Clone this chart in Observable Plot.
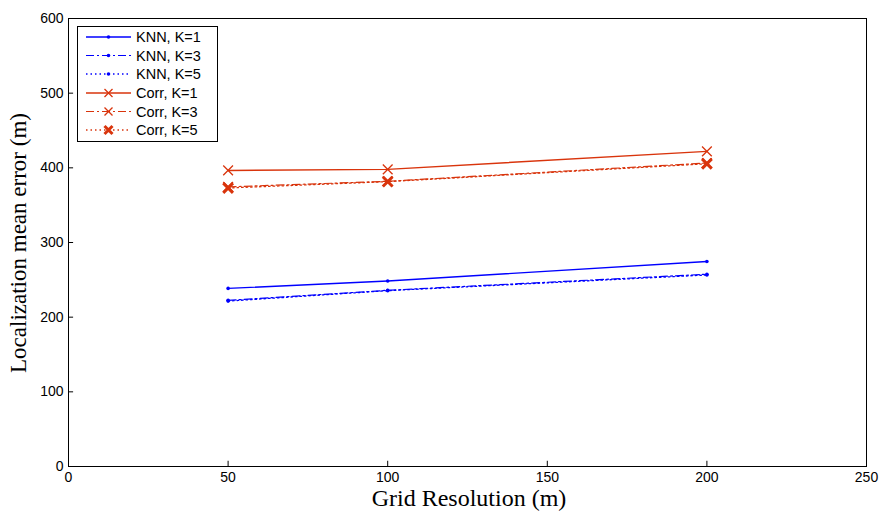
<!DOCTYPE html>
<html><head><meta charset="utf-8">
<script src="https://cdn.jsdelivr.net/npm/d3@7"></script>
<script src="https://cdn.jsdelivr.net/npm/@observablehq/plot@0.6"></script>
<style>body{margin:0;background:#fff}</style>
</head><body><div id="chart"></div>
<script>
const gridRes = [50, 100, 200];
const knnK1 = [238.5, 248.5, 274.5];
const knnK3 = [222.5, 236, 257.5];
const knnK5 = [221.5, 235.5, 256.5];
const corrK1 = [396.5, 398, 422];
const corrK3 = [374.5, 382, 406.5];
const corrK5 = [373, 381.5, 405.5];
const seriesNames = ["KNN, K=1","KNN, K=3","KNN, K=5","Corr, K=1","Corr, K=3","Corr, K=5"];
const xTicks = [0,50,100,150,200,250];
const yTicks = [0,100,200,300,400,500,600];

const BLUE = "#0000ff", RED = "#d9340c";
const styles = [
  {c: BLUE, dash: null, w: 1.4, m: "dot"},
  {c: BLUE, dash: "8,3,2,3", w: 1.2, m: "dot"},
  {c: BLUE, dash: "1.5,3", w: 1.3, m: "dot"},
  {c: RED, dash: null, w: 1.4, m: "x"},
  {c: RED, dash: "8,3,2,3", w: 1.2, m: "x"},
  {c: RED, dash: "1.5,3", w: 1.3, m: "bx"}
];
const allSeries = [knnK1, knnK3, knnK5, corrK1, corrK3, corrK5];
const rows = [];
allSeries.forEach((vals, i) => vals.forEach((v, j) => rows.push({s: i, x: gridRes[j], y: v})));

const marks = [
  Plot.frame({stroke: "#000", strokeWidth: 1}),
  Plot.ruleX(xTicks.slice(1,-1), {x: d => d, y1: 0, y2: 7, stroke: "#000"}),
  Plot.ruleY(yTicks.slice(1,-1), {y: d => d, x1: 0, x2: 1.6, stroke: "#000"}),
  Plot.axisX({ticks: xTicks, tickSize: 0, tickPadding: 6, fontSize: 14, tickFormat: d => d, label: null}),
  Plot.axisY({ticks: yTicks, tickSize: 0, tickPadding: 5, fontSize: 14, tickFormat: d => d, label: null})
];
styles.forEach((st, i) => {
  const d = rows.filter(r => r.s === i);
  marks.push(Plot.line(d, {x: "x", y: "y", stroke: st.c, strokeWidth: st.w, strokeDasharray: st.dash}));
  if (st.m === "dot") marks.push(Plot.dot(d, {x: "x", y: "y", r: 1.8, fill: st.c}));
  else marks.push(Plot.dot(d, {x: "x", y: "y", symbol: "times", r: 4.5, stroke: st.c, strokeWidth: st.m === "bx" ? 3 : 1.3}));
});

const chart = Plot.plot({
  width: 884, height: 513,
  marginLeft: 68, marginRight: 18, marginTop: 18, marginBottom: 47,
  style: {fontFamily: "'Liberation Sans', Arial, sans-serif", background: "#fff", color: "#000"},
  x: {domain: [0, 250]},
  y: {domain: [0, 600]},
  marks
});
document.getElementById("chart").appendChild(chart);

const svg = d3.select(chart);
svg.append("text").attr("x", 469).attr("y", 506).attr("text-anchor", "middle")
  .attr("font-family", "'Liberation Serif', 'Times New Roman', serif").attr("font-size", 24).attr("fill", "#000")
  .text("Grid Resolution (m)");
svg.append("text").attr("transform", "translate(26,243) rotate(-90)").attr("text-anchor", "middle")
  .attr("font-family", "'Liberation Serif', 'Times New Roman', serif").attr("font-size", 23).attr("fill", "#000")
  .text("Localization mean error (m)");

const lg = svg.append("g").attr("text-anchor", "start");
lg.append("rect").attr("x", 77.5).attr("y", 26.5).attr("width", 140).attr("height", 115)
  .attr("fill", "#fff").attr("stroke", "#000").attr("stroke-width", 1);
const rowY = [37, 55.5, 74, 93, 111.5, 130];
styles.forEach((st, i) => {
  const y = rowY[i];
  lg.append("line").attr("x1", 86).attr("x2", 131).attr("y1", y).attr("y2", y)
    .attr("stroke", st.c).attr("stroke-width", st.w).attr("stroke-dasharray", st.dash);
  if (st.m === "dot") lg.append("circle").attr("cx", 108.5).attr("cy", y).attr("r", 1.8).attr("fill", st.c);
  else {
    const s = 4, w = st.m === "bx" ? 3 : 1.3;
    lg.append("path").attr("d", `M${108.5-s},${y-s}L${108.5+s},${y+s}M${108.5-s},${y+s}L${108.5+s},${y-s}`)
      .attr("stroke", st.c).attr("stroke-width", w).attr("fill", "none");
  }
  lg.append("text").attr("x", 136).attr("y", y).attr("dy", "0.35em").attr("font-size", 14.5)
    .attr("text-anchor", "start")
    .attr("font-family", "'Liberation Sans', Arial, sans-serif").attr("fill", "#000").text(seriesNames[i]);
});
</script>
</body></html>
